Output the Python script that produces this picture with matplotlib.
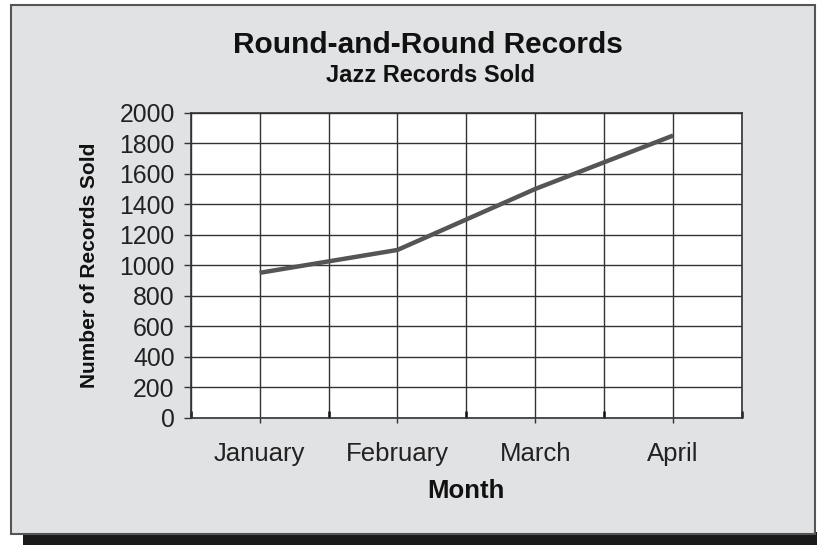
import matplotlib
matplotlib.use("Agg")
import matplotlib.pyplot as plt
from matplotlib.patches import Rectangle

# ---- data ----
months = ["January", "February", "March", "April"]
records_sold = [950, 1100, 1500, 1850]
y_ticks = [0, 200, 400, 600, 800, 1000, 1200, 1400, 1600, 1800, 2000]

title = "Round-and-Round Records"
subtitle = "Jazz Records Sold"
x_label = "Month"
y_label = "Number of Records Sold"

plt.rcParams["font.family"] = ["Liberation Sans", "DejaVu Sans"]

W, H = 817, 545
fig = plt.figure(figsize=(W / 100, H / 100), dpi=100)
fig.patch.set_facecolor("white")

def fx(px):
    return px / W

def fy(py):
    return 1 - py / H

# shadow and panel
fig.patches.append(Rectangle((fx(23), 0), fx(817) - fx(23), fy(532), transform=fig.transFigure,
                             facecolor="#1a1a1a", edgecolor="none", zorder=0))
fig.patches.append(Rectangle((fx(11), fy(534)), fx(815) - fx(11), fy(5) - fy(534),
                             transform=fig.transFigure, facecolor="#e1e2e4",
                             edgecolor="#555555", linewidth=1.5, zorder=1))

ax = fig.add_axes([fx(190.7), fy(417.7), fx(742) - fx(190.7), fy(112.7) - fy(417.7)])
ax.set_zorder(2)
ax.set_facecolor("white")

xpos = [1 + 2 * i for i in range(len(months))]
ax.plot(xpos, records_sold, color="#555555", linewidth=3.2, solid_capstyle="butt", zorder=3)

ax.set_xlim(0, 8)
ax.set_ylim(0, 2000)
ax.set_yticks(y_ticks)
ax.set_yticklabels([str(v) for v in y_ticks], fontsize=17.8, color="#222222")
ax.set_xticks(xpos)
ax.set_xticklabels(months, fontsize=18.5, color="#222222")
ax.set_xticks([0, 2, 4, 6, 8], minor=True)
ax.tick_params(axis="x", which="major", length=3.6, width=1, color="#333333", pad=14, direction="out")
ax.tick_params(axis="x", which="minor", length=5, width=1.8, color="#111111", direction="in")
ax.tick_params(axis="y", which="major", length=5, width=1, color="#333333", pad=6.5)

for x in range(0, 9):
    ax.axvline(x, color="#333333", linewidth=1.0, zorder=1)
for y in y_ticks:
    ax.axhline(y, color="#333333", linewidth=1.0, zorder=1)

for s in ax.spines.values():
    s.set_color("#333333")
    s.set_linewidth(1.2)

ax.set_xlabel(x_label, fontsize=18.5, fontweight="bold", color="#111111", labelpad=9)
ax.set_ylabel(y_label, fontsize=15, fontweight="bold", color="#111111", labelpad=15)

fig.text(fx(428), fy(45), title, ha="center", va="center", fontsize=21.5, fontweight="bold", color="#111111")
fig.text(fx(430), fy(76), subtitle, ha="center", va="center", fontsize=17, fontweight="bold", color="#111111")

fig.savefig("out.png", dpi=100, facecolor=fig.get_facecolor())
